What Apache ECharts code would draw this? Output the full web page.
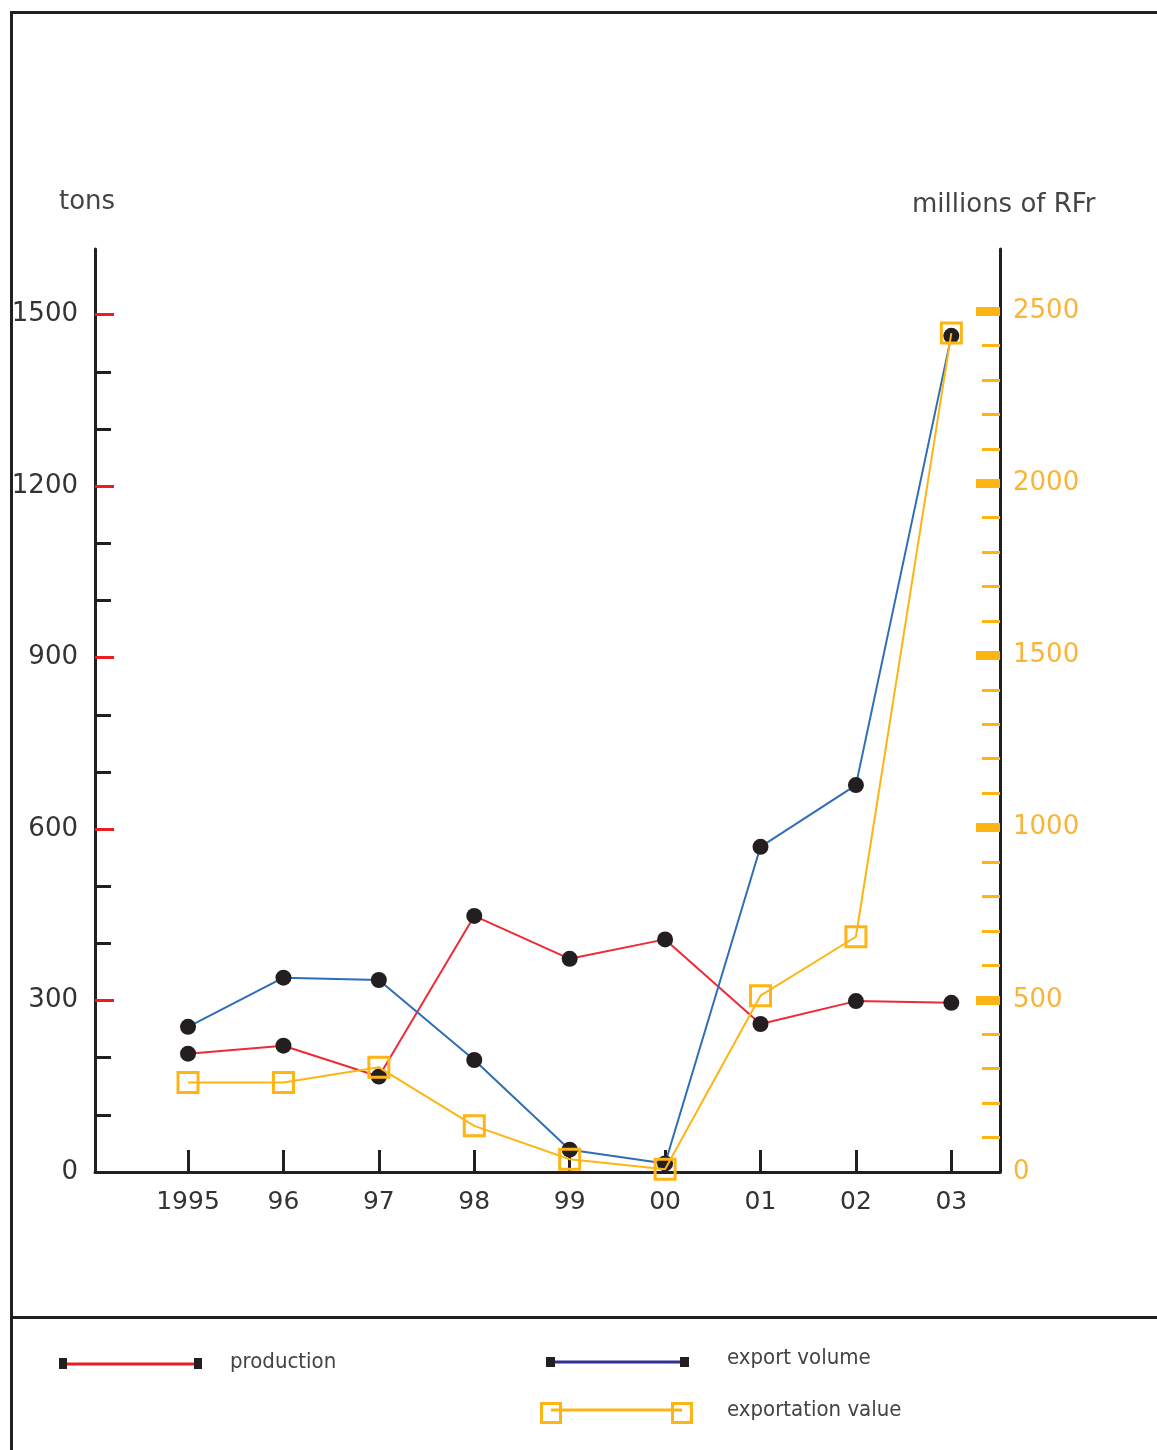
<!DOCTYPE html>
<html><head><meta charset="utf-8">
<script src="https://cdn.jsdelivr.net/npm/echarts@6/dist/echarts.min.js"></script>
<style>html,body{margin:0;padding:0;background:#fff}#c{width:1157px;height:1450px}</style>
</head><body><div id="c"></div>
<script>
// ---- data ----
const years = ['1995','96','97','98','99','00','01','02','03'];
const yearIdx = [0,1,2,3,4,5,6,7,8];
const production = [207,221,167,448,373,407,259,299,296];      // tons
const exportVolume = [254,340,336,196,39,15,569,677,1463];     // tons
const exportValue = [260,260,304,134,37,8,512,683,2436];       // millions of RFr
const tonsLabels = [0,300,600,900,1200,1500];
const tonsMajor = [300,600,900,1200,1500];
const tonsMinor = [100,200,400,500,700,800,1000,1100,1300,1400];
const rfrLabels = [0,500,1000,1500,2000,2500];
const rfrMajor = [500,1000,1500,2000,2500];
const rfrMinor = [100,200,300,400,600,700,800,900,1100,1200,1300,1400,1600,1700,1800,1900,2100,2200,2300,2400];

const INK = '#231F20', RED = '#ED1C24', BLUE = '#2F6EB5', NAVY = '#2E3192', ORANGE = '#FDB515';
const FONT = 'DejaVu Sans';
const LFONT = '"DejaVu Sans Condensed", "DejaVu Sans", sans-serif';

const chart = echarts.init(document.getElementById('c'), null, {renderer: 'canvas'});
const pairs = arr => arr.map((v, i) => [yearIdx[i], v]);
const plain = v => String(Math.round(v));

const noSplit = {show: false};
const option = {
  animation: false,
  backgroundColor: '#fff',
  title: [
    {text: 'tons', left: 54, top: 184, textStyle: {fontFamily: FONT, fontSize: 26, fontWeight: 'normal', color: '#444'}},
    {text: 'millions of RFr', left: 907, top: 187, textStyle: {fontFamily: FONT, fontSize: 26, fontWeight: 'normal', color: '#444'}}
  ],
  grid: {left: 95, right: 157, top: 249, bottom: 278, containLabel: false},
  xAxis: {
    type: 'value', min: -0.975, max: 8.51, splitLine: noSplit,
    axisLine: {show: true, onZero: false, lineStyle: {color: INK, width: 3}},
    axisTick: {show: true, inside: true, length: 22, customValues: yearIdx, lineStyle: {color: INK, width: 3}},
    axisLabel: {customValues: yearIdx, formatter: v => years[Math.round(v)], margin: 18,
      fontFamily: FONT, fontSize: 25, color: '#333'}
  },
  yAxis: [
    {type: 'value', position: 'left', min: 0, max: 1615, splitLine: noSplit,
      axisLine: {show: true, onZero: false, lineStyle: {color: INK, width: 3}},
      axisTick: {show: true, inside: true, length: 19, customValues: tonsMajor, lineStyle: {color: RED, width: 3}},
      axisLabel: {customValues: tonsLabels, formatter: plain, margin: 17, fontFamily: FONT, fontSize: 26, color: '#333'}},
    {type: 'value', position: 'left', min: 0, max: 1615, splitLine: noSplit,
      axisLine: {show: false, onZero: false},
      axisTick: {show: true, inside: true, length: 16, customValues: tonsMinor, lineStyle: {color: INK, width: 3}},
      axisLabel: {show: false}},
    {type: 'value', position: 'right', min: 0, max: 2680, splitLine: noSplit,
      axisLine: {show: true, onZero: false, lineStyle: {color: INK, width: 3}},
      axisTick: {show: true, inside: true, length: 24, customValues: rfrMajor, lineStyle: {color: ORANGE, width: 9}},
      axisLabel: {customValues: rfrLabels, formatter: plain, margin: 13, fontFamily: FONT, fontSize: 26, color: '#F9B43A'}},
    {type: 'value', position: 'right', min: 0, max: 2680, splitLine: noSplit,
      axisLine: {show: false, onZero: false},
      axisTick: {show: true, inside: true, length: 18, customValues: rfrMinor, lineStyle: {color: ORANGE, width: 3}},
      axisLabel: {show: false}}
  ],
  series: [
    {name: 'production', type: 'line', xAxisIndex: 0, yAxisIndex: 0, data: pairs(production), z: 3,
      symbol: 'circle', symbolSize: 16, itemStyle: {color: INK}, lineStyle: {color: '#EE2A35', width: 2}},
    {name: 'export volume', type: 'line', xAxisIndex: 0, yAxisIndex: 0, data: pairs(exportVolume), z: 4,
      symbol: 'circle', symbolSize: 16, itemStyle: {color: INK}, lineStyle: {color: BLUE, width: 2}},
    {name: 'exportation value', type: 'line', xAxisIndex: 0, yAxisIndex: 2, data: pairs(exportValue), z: 5,
      symbol: 'rect', symbolSize: 20, itemStyle: {color: 'rgba(255,255,255,0)', borderColor: ORANGE, borderWidth: 3},
      lineStyle: {color: ORANGE, width: 2}}
  ],
  graphic: [
    // frame
    {type: 'line', shape: {x1: 11.5, y1: 12.5, x2: 1157, y2: 12.5}, style: {stroke: INK, lineWidth: 3}},
    {type: 'line', shape: {x1: 11.5, y1: 11, x2: 11.5, y2: 1450}, style: {stroke: INK, lineWidth: 3}},
    {type: 'line', shape: {x1: 11.5, y1: 1317.5, x2: 1157, y2: 1317.5}, style: {stroke: INK, lineWidth: 3}},
    // legend: production
    {type: 'line', shape: {x1: 63, y1: 1364, x2: 198, y2: 1364}, style: {stroke: RED, lineWidth: 3}},
    {type: 'rect', shape: {x: 59, y: 1358, width: 8, height: 11}, style: {fill: INK}},
    {type: 'rect', shape: {x: 194, y: 1358, width: 8, height: 11}, style: {fill: INK}},
    {type: 'text', x: 230, y: 1362, style: {text: 'production', font: '22px ' + LFONT, fill: '#444', verticalAlign: 'middle'}},
    // legend: export volume
    {type: 'line', shape: {x1: 548, y1: 1362, x2: 686, y2: 1362}, style: {stroke: NAVY, lineWidth: 3}},
    {type: 'rect', shape: {x: 546, y: 1357, width: 9, height: 10}, style: {fill: INK}},
    {type: 'rect', shape: {x: 680, y: 1357, width: 9, height: 10}, style: {fill: INK}},
    {type: 'text', x: 727, y: 1358, style: {text: 'export volume', font: '22px ' + LFONT, fill: '#444', verticalAlign: 'middle'}},
    // legend: exportation value
    {type: 'line', shape: {x1: 551, y1: 1410, x2: 682, y2: 1410}, style: {stroke: ORANGE, lineWidth: 3}},
    {type: 'rect', shape: {x: 541.5, y: 1403.5, width: 19, height: 19}, style: {fill: 'none', stroke: ORANGE, lineWidth: 3}},
    {type: 'rect', shape: {x: 672.5, y: 1403.5, width: 19, height: 19}, style: {fill: 'none', stroke: ORANGE, lineWidth: 3}},
    {type: 'text', x: 727, y: 1410, style: {text: 'exportation value', font: '22px ' + LFONT, fill: '#444', verticalAlign: 'middle'}}
  ]
};
chart.setOption(option);
</script>
</body></html>
